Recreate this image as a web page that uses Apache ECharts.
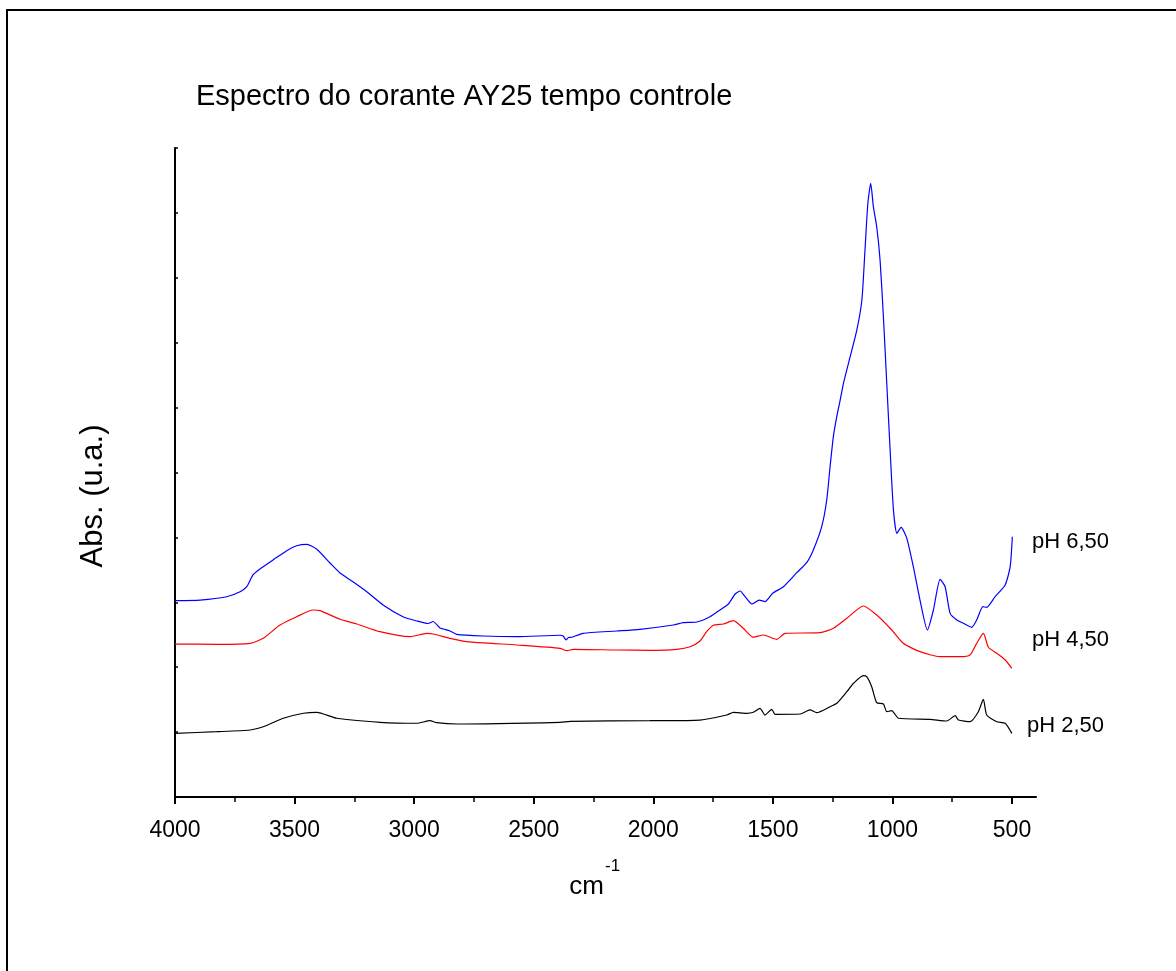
<!DOCTYPE html>
<html><head><meta charset="utf-8">
<script src="https://cdn.jsdelivr.net/npm/echarts@6/dist/echarts.min.js"></script>
<style>html,body{margin:0;padding:0;background:#fff}#c{width:1176px;height:971px}</style>
</head><body><div id="c"></div>
<script>
// ---- texts ----
const chartTitle = 'Espectro do corante AY25 tempo controle';
const yTitle = 'Abs. (u.a.)';
const xTitle = 'cm';
const xTitleSup = '-1';
const xTickLabels = [4000, 3500, 3000, 2500, 2000, 1500, 1000, 500];
const seriesNames = ['pH 6,50', 'pH 4,50', 'pH 2,50'];

// ---- pH 6,50 (blue) ----
const blueWn = [4000,3895,3784,3728,3700,3674,3645,3590,3533,3491,3449,3407,3352,3310,3256,3198,3130,3047,2989,2942,2921,2900,2892,2850,2822,2712,2571,2390,2377,2365,2355,2341,2294,2153,2056,1916,1875,1819,1763,1728,1686,1658,1637,1616,1588,1557,1533,1501,1456,1400,1358,1331,1296,1275,1261,1247,1233,1219,1205,1177,1149,1128,1115,1103,1091,1080,1066,1052,1038,1024,1010,996,982,964,940,913,885,854,829,801,780,759,731,704,669,648,622,606,571,529,508,499];
const blueAbs = [3.025,3.035,3.086,3.163,3.240,3.421,3.513,3.652,3.795,3.872,3.894,3.817,3.606,3.451,3.317,3.163,2.958,2.778,2.712,2.673,2.704,2.635,2.604,2.558,2.507,2.481,2.470,2.492,2.481,2.419,2.458,2.461,2.522,2.558,2.584,2.650,2.686,2.696,2.778,2.866,2.974,3.128,3.174,3.086,2.974,3.035,3.009,3.139,3.240,3.456,3.616,3.806,4.165,4.576,5.089,5.560,5.860,6.110,6.374,6.784,7.196,7.658,8.428,9.148,9.456,9.096,8.787,8.274,7.401,6.374,5.347,4.422,4.063,4.156,3.986,3.549,3.035,2.573,2.881,3.354,3.240,2.830,2.727,2.676,2.615,2.727,2.932,2.923,3.086,3.267,3.549,4.011];

// ---- pH 4,50 (red) ----
const redWn = [4000,3826,3686,3631,3561,3491,3422,3394,3310,3240,3143,3017,2948,2920,2850,2780,2571,2390,2362,2334,2153,2014,1902,1846,1805,1777,1749,1707,1665,1624,1582,1540,1484,1449,1303,1247,1191,1122,1066,1003,955,885,801,717,676,648,620,599,564,529,501];
const redAbs = [2.357,2.353,2.368,2.445,2.650,2.778,2.881,2.871,2.738,2.666,2.547,2.470,2.522,2.512,2.445,2.393,2.342,2.291,2.254,2.276,2.265,2.260,2.276,2.316,2.404,2.547,2.646,2.666,2.717,2.599,2.461,2.496,2.430,2.522,2.532,2.599,2.753,2.943,2.804,2.573,2.368,2.239,2.162,2.162,2.188,2.368,2.522,2.307,2.214,2.111,1.983];

// ---- pH 2,50 (black) ----
const blackWn = [4000,3826,3686,3631,3547,3463,3407,3324,3143,2989,2934,2906,2822,2390,2348,2014,1805,1693,1665,1610,1582,1554,1533,1505,1491,1386,1345,1317,1261,1233,1191,1163,1122,1108,1087,1066,1038,1024,1003,975,843,773,738,724,676,641,620,606,564,529,501];
const blackAbs = [0.981,1.006,1.032,1.083,1.213,1.290,1.305,1.213,1.151,1.136,1.176,1.145,1.125,1.151,1.166,1.176,1.186,1.263,1.305,1.290,1.305,1.367,1.263,1.351,1.274,1.279,1.341,1.299,1.391,1.444,1.622,1.752,1.869,1.854,1.700,1.453,1.433,1.314,1.330,1.213,1.197,1.171,1.253,1.186,1.160,1.314,1.505,1.263,1.160,1.136,0.981];

const FONT = '"Liberation Sans", Arial, sans-serif';
const zip = (a, b) => a.map((v, i) => [v, b[i]]);

const chart = echarts.init(document.getElementById('c'), null, {renderer: 'canvas'});

function lineSeries(name, wn, ab, color) {
  return {
    name, type: 'line', xAxisIndex: 0, yAxisIndex: 0,
    data: zip(wn, ab), showSymbol: false, symbol: 'none',
    smooth: 0.2, lineStyle: {color, width: 1.2}, itemStyle: {color},
    animation: false, silent: true
  };
}

chart.setOption({
  backgroundColor: '#fff',
  animation: false,
  grid: [
    {left: 175, top: 148, width: 861, height: 649},
    {left: 175, top: 148, width: 837, height: 649}
  ],
  xAxis: [
    {gridIndex: 0, type: 'value', min: 400, max: 4000, inverse: true,
     axisLine: {show: true, onZero: false, lineStyle: {color: '#000', width: 2}},
     axisTick: {show: false}, axisLabel: {show: false}, splitLine: {show: false}},
    {gridIndex: 1, type: 'value', min: 500, max: 4000, interval: 500, inverse: true,
     axisLine: {show: false, onZero: false},
     axisTick: {show: true, inside: false, length: 7, lineStyle: {color: '#000', width: 2}},
     minorTick: {show: true, splitNumber: 2, length: 5, lineStyle: {color: '#000', width: 1.5}},
     axisLabel: {show: true, margin: 22, color: '#000', fontSize: 23, fontFamily: FONT,
       formatter: v => xTickLabels.includes(v) ? String(v) : ''},
     splitLine: {show: false}, minorSplitLine: {show: false}}
  ],
  yAxis: [
    {gridIndex: 0, type: 'value', min: 0, max: 10, interval: 1,
     axisLine: {show: true, onZero: false, lineStyle: {color: '#000', width: 2}},
     axisTick: {show: true, inside: true, length: 3, lineStyle: {color: '#000', width: 1.5}},
     axisLabel: {show: false}, splitLine: {show: false}},
    {gridIndex: 1, type: 'value', min: 0, max: 10, show: false}
  ],
  series: [
    lineSeries(seriesNames[0], blueWn, blueAbs, '#0000ff'),
    lineSeries(seriesNames[1], redWn, redAbs, '#ff0000'),
    lineSeries(seriesNames[2], blackWn, blackAbs, '#000000')
  ],
  graphic: [
    {type: 'rect', shape: {x: 7, y: 10, width: 1200, height: 1000},
     style: {fill: 'none', stroke: '#000', lineWidth: 2}, silent: true},
    {type: 'text', x: 196, y: 97, style: {text: chartTitle, font: '29px ' + FONT, fill: '#000', textAlign: 'left', textVerticalAlign: 'middle'}},
    {type: 'text', x: 93, y: 496, rotation: Math.PI / 2, style: {text: yTitle, font: '31px ' + FONT, fill: '#000', textAlign: 'center', textVerticalAlign: 'middle'}},
    {type: 'text', x: 604, y: 887, style: {text: xTitle, font: '26px ' + FONT, fill: '#000', textAlign: 'right', textVerticalAlign: 'middle'}},
    {type: 'text', x: 605, y: 866, style: {text: xTitleSup, font: '17px ' + FONT, fill: '#000', textAlign: 'left', textVerticalAlign: 'middle'}},
    {type: 'text', x: 1032, y: 542, style: {text: seriesNames[0], font: '22px ' + FONT, fill: '#000', textAlign: 'left', textVerticalAlign: 'middle'}},
    {type: 'text', x: 1032, y: 640, style: {text: seriesNames[1], font: '22px ' + FONT, fill: '#000', textAlign: 'left', textVerticalAlign: 'middle'}},
    {type: 'text', x: 1027, y: 726, style: {text: seriesNames[2], font: '22px ' + FONT, fill: '#000', textAlign: 'left', textVerticalAlign: 'middle'}}
  ]
});
</script>
</body></html>
